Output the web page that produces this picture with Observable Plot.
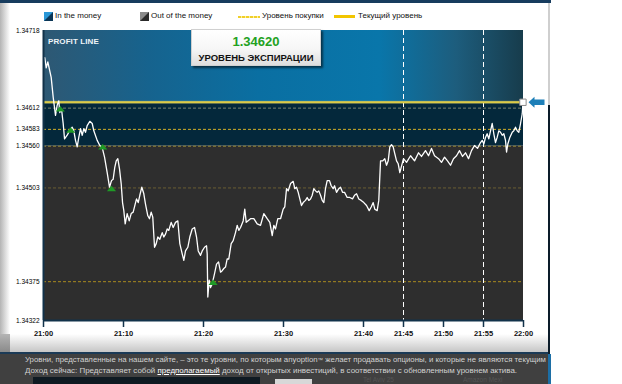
<!DOCTYPE html>
<html><head><meta charset="utf-8">
<script src="https://cdn.jsdelivr.net/npm/d3@7"></script>
<script src="https://cdn.jsdelivr.net/npm/@observablehq/plot@0.6"></script>
<style>
html,body{margin:0;padding:0;background:#fff;}
#wrap{position:relative;width:622px;height:384px;overflow:hidden;font-family:"Liberation Sans",Arial,sans-serif;}
.abs{position:absolute;}
#chart{position:absolute;left:0;top:0;}
.lg{position:absolute;top:11px;font-size:8px;line-height:10px;color:#111;white-space:nowrap;}
#band{position:absolute;left:0;top:352px;width:548px;height:30px;background:#404040;border-top:2px solid #1b3a56;overflow:hidden;}
.bt{position:absolute;left:25px;font-size:7.95px;color:#d2d2d2;white-space:nowrap;line-height:10px;}
.ghost{position:absolute;font-size:6.5px;color:#555;white-space:nowrap;line-height:7px;}
</style></head><body>
<div id="wrap">
  <div class="abs" style="left:0;top:0;width:551px;height:3px;background:#173c5e"></div>
  <div class="abs" style="left:0;top:3px;width:10px;height:349px;background:linear-gradient(to right,#b4b4b4,#ffffff)"></div>
  <div class="abs" style="left:10px;top:334px;width:538px;height:18px;background:linear-gradient(to bottom,#ffffff,#c6c6c6)"></div>
  <div class="abs" style="left:0;top:334px;width:10px;height:18px;background:linear-gradient(to bottom,#b4b4b4,#8a8a8a)"></div>
  <div class="abs" style="left:548px;top:3px;width:2px;height:102px;background:#cfcfcf"></div>
  <div class="abs" style="left:548px;top:105px;width:2px;height:279px;background:#0c1c2a"></div>
  <div id="band">
    <div class="abs" style="left:33px;top:23px;width:227px;height:9px;background:#0f1a22"></div>
    <div class="abs" style="left:275px;top:25px;width:37px;height:7px;background:#d8d8d8"></div>
    <div class="ghost" style="left:363px;top:22px">Tel Aviv 25</div>
    <div class="ghost" style="left:463px;top:22px">Amazon Mexi</div>
    <div class="bt" style="top:1px;font-size:7.8px">Уровни, представленные на нашем сайте, – это те уровни, по которым anyoption<span style="font-size:5.5px;vertical-align:top">™</span> желает продавать опционы, и которые не являются текущим</div>
    <div class="bt" style="top:12px">Доход сейчас: Представляет собой <u style="color:#fff">предполагаемый</u> доход от открытых инвестиций, в соответствии с обновленным уровнем актива.</div>
  </div>
  <div class="abs" style="left:548px;top:354px;width:3px;height:30px;background:#1c6ea5"></div>
  <div id="chart"></div>
  <!-- legend -->
  <div class="abs" style="left:44px;top:12px;width:9px;height:9px;background:linear-gradient(135deg,#2a97d6 0%,#2a97d6 48%,#0b3656 52%,#0b3656 100%)"></div>
  <div class="lg" style="left:55px">In the money</div>
  <div class="abs" style="left:140px;top:12px;width:9px;height:9px;background:linear-gradient(135deg,#8a8a8a 0%,#8a8a8a 48%,#2a2a2a 52%,#2a2a2a 100%)"></div>
  <div class="lg" style="left:151px">Out of the money</div>
  <div class="abs" style="left:238px;top:15.5px;width:22px;height:2px;background:repeating-linear-gradient(to right,#f0cf2a 0,#f0cf2a 3px,#fff2a0 3px,#fff2a0 4px)"></div>
  <div class="lg" style="left:262px">Уровень покупки</div>
  <div class="abs" style="left:334px;top:15px;width:21px;height:3px;background:#f2c500"></div>
  <div class="lg" style="left:358px">Текущий уровень</div>
  <!-- profit line label -->
  <div class="abs" style="left:48px;top:37px;font-size:8px;font-weight:bold;color:#eef4f8;letter-spacing:0.1px">PROFIT LINE</div>
  <!-- expiry box -->
  <div class="abs" id="expbox" style="left:191px;top:29px;width:130px;height:37px;background:linear-gradient(to bottom,#ffffff 0%,#f6f6f6 55%,#dedede 100%);box-shadow:2px 2px 2px rgba(0,0,0,0.55);border:1px solid #d0d0d0;box-sizing:border-box;text-align:center">
    <div id="expval" style="position:absolute;left:0;right:0;top:5px;font-size:13px;font-weight:bold;color:#22a122;line-height:14px"></div>
    <div style="position:absolute;left:0;right:0;top:22px;font-size:9.5px;font-weight:bold;color:#111;line-height:11px;white-space:nowrap">УРОВЕНЬ ЭКСПИРАЦИИ</div>
  </div>
</div>
<script>
// minutes after 21:00
const times = [
0.16,0.34,0.54,0.96,1.21,1.5,1.71,1.91,2.04,2.25,
2.46,2.63,2.96,3.25,3.59,3.79,4.0,4.21,4.41,4.63,
4.84,5.04,5.25,5.46,5.79,6.09,6.29,6.71,7.04,7.34,
7.63,7.96,8.25,8.5,8.71,8.91,9.09,9.29,9.5,9.71,
9.88,10.04,10.21,10.46,10.71,10.96,11.21,11.46,11.63,11.84,
12.04,12.29,12.54,12.75,13.04,13.25,13.46,13.66,13.88,14.09,
14.29,14.54,14.84,15.04,15.25,15.46,15.66,15.96,16.21,16.5,
16.79,17.04,17.34,17.54,17.75,18.04,18.29,18.59,18.88,19.13,
19.34,19.63,19.84,20.13,20.38,20.46,20.54,20.71,20.88,21.09,
21.38,21.63,21.88,22.13,22.34,22.54,22.75,22.96,23.16,23.46,
23.71,24.0,24.21,24.41,24.63,24.96,25.16,25.34,25.54,25.88,
26.29,26.71,27.13,27.54,27.96,28.29,28.59,28.79,29.0,29.29,
29.63,29.96,30.16,30.38,30.59,30.88,31.21,31.41,31.63,31.84,
32.04,32.25,32.46,32.75,32.96,33.16,33.38,33.59,33.79,34.0,
34.21,34.41,34.63,34.84,35.04,35.25,35.46,35.75,35.96,36.21,
36.38,36.63,36.91,37.13,37.38,37.63,37.96,38.29,38.63,38.88,
39.13,39.41,39.71,40.04,40.38,40.71,40.96,41.21,41.41,41.71,
41.91,42.13,42.41,42.66,42.88,43.09,43.29,43.5,43.71,43.91,
44.13,44.34,44.54,45.0,45.38,45.88,46.38,46.88,47.25,47.75,
48.13,48.5,48.88,49.38,49.75,50.13,50.5,50.88,51.25,51.63,
52.0,52.38,52.75,53.13,53.5,53.88,54.25,54.63,54.84,55.04,
55.25,55.46,55.66,55.88,56.09,56.29,56.5,56.71,56.91,57.13,
57.34,57.54,57.75,57.88,58.04,58.29,58.59,58.79,59.0,59.21,
59.41,59.63,59.84,59.93];
const prices = [
1.34681,1.34667,1.34675,1.34654,1.34627,1.34602,1.34616,1.34622,1.34606,1.34611,
1.34591,1.34570,1.34575,1.34581,1.34586,1.34581,1.34568,1.34559,1.34572,1.34584,
1.34575,1.34584,1.34579,1.34588,1.34594,1.34591,1.34581,1.34568,1.34561,1.34558,
1.34545,1.34524,1.34504,1.34513,1.34515,1.34531,1.34540,1.34543,1.34529,1.34509,
1.34483,1.34472,1.34454,1.34468,1.34458,1.34468,1.34470,1.34481,1.34488,1.34483,
1.34493,1.34504,1.34495,1.34481,1.34465,1.34461,1.34470,1.34463,1.34422,1.34427,
1.34436,1.34433,1.34442,1.34436,1.34440,1.34447,1.34445,1.34456,1.34449,1.34456,
1.34458,1.34427,1.34413,1.34404,1.34417,1.34422,1.34436,1.34447,1.34449,1.34436,
1.34417,1.34411,1.34417,1.34422,1.34424,1.34413,1.34354,1.34377,1.34367,1.34372,
1.34386,1.34399,1.34402,1.34388,1.34390,1.34393,1.34395,1.34406,1.34406,1.34427,
1.34431,1.34442,1.34452,1.34445,1.34449,1.34458,1.34474,1.34456,1.34458,1.34461,
1.34461,1.34454,1.34452,1.34468,1.34461,1.34456,1.34438,1.34452,1.34447,1.34461,
1.34461,1.34474,1.34477,1.34502,1.34499,1.34509,1.34512,1.34502,1.34504,1.34497,
1.34488,1.34479,1.34483,1.34486,1.34490,1.34486,1.34488,1.34493,1.34502,1.34499,
1.34497,1.34499,1.34493,1.34486,1.34483,1.34502,1.34513,1.34513,1.34506,1.34502,
1.34506,1.34497,1.34502,1.34504,1.34497,1.34497,1.34490,1.34490,1.34488,1.34493,
1.34495,1.34488,1.34486,1.34483,1.34479,1.34472,1.34477,1.34483,1.34474,1.34472,
1.34486,1.34540,1.34540,1.34543,1.34534,1.34540,1.34559,1.34562,1.34559,1.34550,
1.34540,1.34536,1.34524,1.34543,1.34538,1.34547,1.34540,1.34551,1.34546,1.34554,
1.34547,1.34557,1.34547,1.34543,1.34538,1.34545,1.34540,1.34534,1.34543,1.34547,
1.34554,1.34546,1.34551,1.34543,1.34554,1.34561,1.34557,1.34565,1.34568,1.34563,
1.34572,1.34577,1.34570,1.34581,1.34591,1.34577,1.34565,1.34572,1.34581,1.34579,
1.34575,1.34577,1.34568,1.34552,1.34563,1.34572,1.34579,1.34581,1.34586,1.34581,
1.34579,1.34591,1.34604,1.34620];

const xDomain = [0, 60];
const xTicks = [0, 10, 20, 30, 40, 45, 50, 55, 60];
const xTickLabels = ["21:00","21:10","21:20","21:30","21:40","21:45","21:50","21:55","22:00"];
const yDomain = [1.34322, 1.34718];
const yTicks = [1.34718, 1.34612, 1.34583, 1.34560, 1.34503, 1.34375, 1.34322];
const purchaseLevels = [1.34612, 1.34583, 1.34560, 1.34503, 1.34375];
const expiryLevel = 1.34620;
const moneyFloor = 1.34560;
const crossTimes = [2.1, 3.4, 7.4, 8.5, 21.2];
const crossLevels = [1.34612, 1.34583, 1.34560, 1.34503, 1.34375];
const guideTimes = [45, 55];

// styles (kept separate from data)
const levelStrokes = ["#76806e", "#d2b12a", "#978838", "#6a5d33", "#a8891f"];

const fmt5 = d3.format(".5f");
document.getElementById("expval").textContent = fmt5(expiryLevel);

const n = Math.min(times.length, prices.length);
const series = d3.range(n).map(i => ({t: times[i], p: prices[i]}));
const levelData = purchaseLevels.map((v, i) => ({v, c: levelStrokes[i]}));
const crossData = crossTimes.map((t, i) => ({t, v: crossLevels[i]}));

const flatTriangle = {draw(ctx) { ctx.moveTo(0, -3.2); ctx.lineTo(4.6, 2.3); ctx.lineTo(-4.6, 2.3); ctx.closePath(); }};
const arrowLeft = {draw(ctx) {
  ctx.moveTo(-8, 0); ctx.lineTo(-2, -5.5); ctx.lineTo(-2, -2.8); ctx.lineTo(8, -2.8);
  ctx.lineTo(8, 2.8); ctx.lineTo(-2, 2.8); ctx.lineTo(-2, 5.5); ctx.closePath(); }};

const chart = Plot.plot({
  width: 622, height: 384,
  marginLeft: 43, marginRight: 99, marginTop: 30, marginBottom: 64,
  x: {domain: xDomain, label: null},
  y: {domain: yDomain, label: null},
  color: {type: "identity"},
  style: {background: "transparent", fontFamily: "'Liberation Sans', Arial, sans-serif", overflow: "visible"},
  marks: [
    Plot.rect([{lo: expiryLevel, hi: yDomain[1]}], {y1: "lo", y2: "hi", fill: "url(#profitGrad)"}),
    Plot.rect([{lo: moneyFloor, hi: expiryLevel}], {y1: "lo", y2: "hi", fill: "#04283b"}),
    Plot.rect([{lo: yDomain[0], hi: moneyFloor}], {y1: "lo", y2: "hi", fill: "#2e2e2e"}),
    Plot.ruleY(levelData, {y: "v", stroke: "c", strokeWidth: 1, strokeDasharray: "3,2"}),
    Plot.ruleX(guideTimes, {stroke: "#ffffff", strokeWidth: 1, strokeDasharray: "5,3"}),
    Plot.ruleY([expiryLevel], {stroke: "#f3e9a0", strokeWidth: 3, strokeOpacity: 0.3}),
    Plot.ruleY([expiryLevel], {stroke: "#dccb45", strokeWidth: 1.8}),
    Plot.line(series, {x: "t", y: "p", stroke: "#ffffff", strokeWidth: 1.3}),
    Plot.dot(crossData, {x: "t", y: "v", symbol: flatTriangle, fill: "#1f9a26", stroke: "none", dy: 1}),
    Plot.dot([series[n - 1]], {x: "t", y: "p", symbol: "square", r: 3.6, fill: "#ffffff", stroke: "#8c8c8c", strokeWidth: 1}),
    Plot.dot([{t: xDomain[1], v: expiryLevel}], {x: "t", y: "v", symbol: arrowLeft, fill: "#1d7fb8", stroke: "none", dx: 13}),
    Plot.ruleX([xDomain[0]], {stroke: "#12324a", strokeWidth: 2}),
    Plot.ruleY([yDomain[0]], {stroke: "#12324a", strokeWidth: 2}),
    Plot.axisY(yTicks, {tickSize: 0, tickPadding: 4, tickFormat: fmt5, fontSize: 6.5, fill: "#000", label: null}),
    Plot.axisX(xTicks, {tickSize: 7, tickPadding: 3, tickFormat: d => xTickLabels[xTicks.indexOf(d)], fontSize: 7.5, fontWeight: "bold", fill: "#111", stroke: "#12324a", strokeWidth: 1.5, label: null})
  ]
});

const svg = d3.select(chart);
const defs = svg.insert("defs", ":first-child");
const g = defs.append("linearGradient").attr("id", "profitGrad").attr("x1", 0).attr("x2", 1).attr("y1", 0).attr("y2", 0);
[["0%", "#2e5873"], ["22%", "#16638e"], ["45%", "#0a6fa2"], ["70%", "#0976aa"], ["86%", "#1d5d7d"], ["100%", "#173c4c"]]
  .forEach(([o, c]) => g.append("stop").attr("offset", o).attr("stop-color", c));
document.getElementById("chart").appendChild(chart);
</script>
</body></html>
